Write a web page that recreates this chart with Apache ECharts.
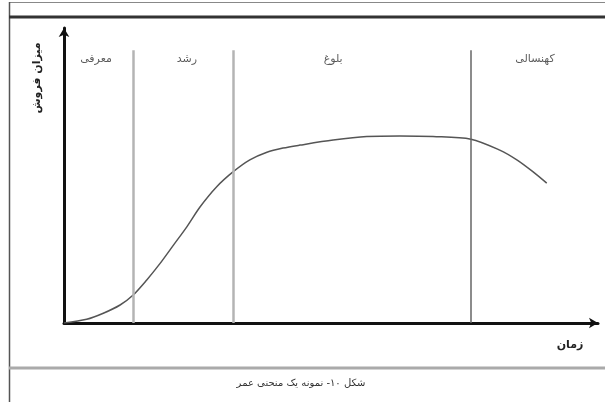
<!DOCTYPE html>
<html>
<head>
<meta charset="utf-8">
<script src="https://cdn.jsdelivr.net/npm/echarts@6/dist/echarts.min.js"></script>
<style>
  html, body { margin: 0; padding: 0; background: #fff; }
  #chart { width: 605px; height: 402px; }
</style>
</head>
<body>
<div id="chart"></div>
<script>
// زمان (0..100) و میزان فروش (0..100)، خوانده شده از تصویر
var timeValues = [0, 4.25, 7.36, 10.5, 12.9, 15.5, 18.0, 20.5, 23.0, 25.5, 28.6, 31.7, 34.8, 38.0, 41.0, 44.2,
    50.4, 56.7, 62.9, 69.1, 76.2, 81.6, 84.8, 87.8, 90.4];
var salesValues = [0, 1.25, 3.3, 6.1, 9.4, 14.6, 20.2, 26.4, 32.6, 39.4, 46.2, 51.3, 55.3, 57.9, 59.3, 60.3,
    62.0, 63.2, 63.4, 63.2, 62.3, 58.6, 55.3, 51.3, 47.4];

// مرز مراحل و نام مراحل
var stageBounds = [12.9, 31.7, 76.2];
var stageNames = ['معرفی', 'رشد', 'بلوغ', 'کهنسالی'];
var stageLabelX = [6.0, 23.0, 50.4, 88.2];
var stageLabelY = 89.5;
var boundTop = 92.5;

var chart = echarts.init(document.getElementById('chart'));
var font = 'DejaVu Sans';

var curve = timeValues.map(function(t, i) { return [t, salesValues[i]]; });
var stageLabels = stageNames.map(function(n, i) { return { name: n, value: [stageLabelX[i], stageLabelY] }; });
var boundLines = stageBounds.map(function(b, i) {
    return [
        { coord: [b, 0], lineStyle: i < 2 ? { color: '#b4b4b4', width: 2.5, type: 'solid' } : { color: '#666', width: 1.5, type: 'solid' } },
        { coord: [b, boundTop] }
    ];
});

var option = {
    animation: false,
    backgroundColor: '#fff',
    grid: { left: 64, right: 7, top: 28, bottom: 79 },
    xAxis: {
        type: 'value', min: 0, max: 100,
        axisLine: { lineStyle: { color: '#111', width: 3 }, symbol: ['none', 'arrow'], symbolSize: [8, 9] },
        axisTick: { show: false }, axisLabel: { show: false }, splitLine: { show: false }
    },
    yAxis: {
        type: 'value', min: 0, max: 100,
        axisLine: { show: true, lineStyle: { color: '#111', width: 3 }, symbol: ['none', 'arrow'], symbolSize: [8, 9] },
        axisTick: { show: false }, axisLabel: { show: false }, splitLine: { show: false }
    },
    series: [
        {
            type: 'line', data: curve, smooth: 0.3, symbol: 'none', z: 3,
            lineStyle: { color: '#555', width: 1.5 },
            markLine: { silent: true, symbol: 'none', label: { show: false }, data: boundLines }
        },
        {
            type: 'scatter', data: stageLabels, symbolSize: 0,
            label: { show: true, position: 'inside', formatter: '{b}', fontFamily: font, fontSize: 11, color: '#333' }
        }
    ],
    graphic: [
        { type: 'line', shape: { x1: 9, y1: 2.5, x2: 605, y2: 2.5 }, style: { stroke: '#888', lineWidth: 1 } },
        { type: 'line', shape: { x1: 9.5, y1: 2, x2: 9.5, y2: 402 }, style: { stroke: '#555', lineWidth: 1.5 } },
        { type: 'line', shape: { x1: 9, y1: 17, x2: 605, y2: 17 }, style: { stroke: '#333', lineWidth: 3 } },
        { type: 'line', shape: { x1: 9, y1: 368, x2: 605, y2: 368 }, style: { stroke: '#aaa', lineWidth: 3 } },
        { type: 'text', x: 37, y: 78, rotation: Math.PI / 2,
          style: { text: 'میزان فروش', fontFamily: font, fontSize: 11, fontWeight: 'bold', fill: '#222', align: 'center', verticalAlign: 'middle' } },
        { type: 'text', x: 570, y: 345,
          style: { text: 'زمان', fontFamily: font, fontSize: 11, fontWeight: 'bold', fill: '#222', align: 'center', verticalAlign: 'middle' } },
        { type: 'text', x: 301, y: 383,
          style: { text: 'شکل ۱۰- نمونه یک منحنی عمر', fontFamily: font, fontSize: 10, fill: '#333', align: 'center', verticalAlign: 'middle' } }
    ]
};
chart.setOption(option);
</script>
</body>
</html>
